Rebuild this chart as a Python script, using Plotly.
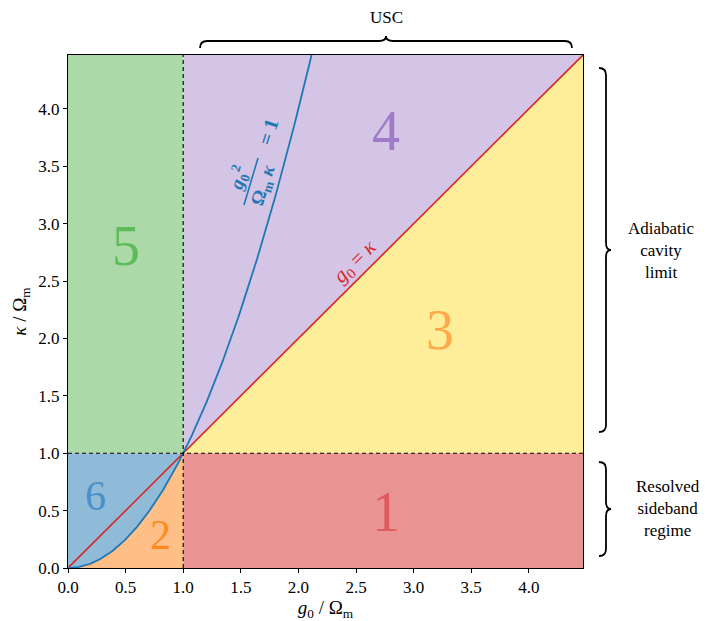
import numpy as np
import plotly.graph_objects as go

# ---- data ----
threshold = 1.0            # g0/Ωm = 1 and κ/Ωm = 1 boundaries
axis_max = 4.47            # axis extent (both axes)
x_ticks = [0.0, 0.5, 1.0, 1.5, 2.0, 2.5, 3.0, 3.5, 4.0]
y_ticks = [0.0, 0.5, 1.0, 1.5, 2.0, 2.5, 3.0, 3.5, 4.0]
tick_text = ["0.0", "0.5", "1.0", "1.5", "2.0", "2.5", "3.0", "3.5", "4.0"]
region_labels = ["1", "2", "3", "4", "5", "6"]
region_x = [2.76, 0.80, 3.23, 2.76, 0.50, 0.24]
region_y = [0.49, 0.29, 2.07, 3.81, 2.81, 0.63]

# boundary curve κ = g0² (g0²/(Ωm κ) = 1)
g_curve = np.linspace(0, np.sqrt(axis_max), 200)
k_curve = g_curve ** 2
g_in = g_curve[g_curve <= threshold]
k_in = g_in ** 2

# ---- styles ----
FONT = "Liberation Serif"
fill_cols = {"1": "#EA9393", "2": "#FFBF86", "3": "#FFEE99",
             "4": "#D4C4E6", "5": "#ABD9A8", "6": "#8FBBD9"}
text_cols = {"1": "#E0595C", "2": "#FF8A1E", "3": "#FFA94A",
             "4": "#A07CC8", "5": "#5DBB5A", "6": "#4A90C8"}
text_sizes = {"1": 56, "2": 42, "3": 56, "4": 56, "5": 56, "6": 42}

fig = go.Figure()

def poly(xs, ys, col):
    fig.add_trace(go.Scatter(x=xs, y=ys, fill="toself", fillcolor=col, mode="lines",
                             line=dict(width=0, color=col),
                             hoverinfo="skip", showlegend=False))

T, L = threshold, axis_max
poly([0, T, T, 0], [T, T, L, L], fill_cols["5"])
poly(list(g_in) + [0], list(k_in) + [T], fill_cols["6"])
poly(list(g_in) + [T], list(k_in) + [0], fill_cols["2"])
poly([T, L, T], [T, L, L], fill_cols["4"])
poly([T, L, L], [T, T, L], fill_cols["3"])
poly([T, L, L, T], [0, 0, T, T], fill_cols["1"])

# lines
fig.add_trace(go.Scatter(x=[0, L], y=[0, L], mode="lines",
                         line=dict(color="#d62728", width=1.6), showlegend=False, hoverinfo="skip"))
fig.add_trace(go.Scatter(x=g_curve, y=k_curve, mode="lines",
                         line=dict(color="#1f77b4", width=1.8), showlegend=False, hoverinfo="skip"))
fig.add_trace(go.Scatter(x=[T, T], y=[0, L], mode="lines",
                         line=dict(color="black", width=1.1, dash="4px,3px"), showlegend=False, hoverinfo="skip"))
fig.add_trace(go.Scatter(x=[0, L], y=[T, T], mode="lines",
                         line=dict(color="black", width=1.1, dash="4px,3px"), showlegend=False, hoverinfo="skip"))

for lab, xx, yy in zip(region_labels, region_x, region_y):
    fig.add_annotation(x=xx, y=yy, text=lab, showarrow=False,
                       xanchor="center", yanchor="middle",
                       font=dict(family=FONT, size=text_sizes[lab], color=text_cols[lab]))

# ---- pixel helpers ----
PL, PR, PT, PB = 68, 583, 55, 568
W, H = PR - PL, PB - PT
def px(x): return (x - PL) / W
def py(y): return (PB - y) / H

def ptext(x, y, text, size, color="black", angle=0):
    fig.add_annotation(x=px(x), y=py(y), xref="paper", yref="paper", text=text,
                       textangle=angle, showarrow=False, align="center",
                       xanchor="center", yanchor="middle",
                       font=dict(family=FONT, size=size, color=color))

# rotated curve labels: fraction g0² / (Ωm κ) = 1
ptext(251, 181, "<b><i>g</i><sub>0</sub><sup>2</sup></b><br><b>Ω<sub>m</sub> <i>κ</i></b>", 19,
      "#1f77b4", -72)
fig.add_shape(type="line", xref="paper", yref="paper",
              x0=px(244), y0=py(205), x1=px(258), y1=py(158),
              line=dict(color="#1f77b4", width=1.6))
ptext(268, 132, "<b>= 1</b>", 20, "#1f77b4", -72)
ptext(355, 262, "<i>g</i><sub>0</sub> = <i>κ</i>", 21, "#d62728", -45)

# ---- braces ----
def hbrace(x0, x1, y, d):
    xm = (x0 + x1) / 2
    r = 7
    return (f"M {px(x0)},{py(y + r)} Q {px(x0)},{py(y)} {px(x0 + r)},{py(y)} "
            f"L {px(xm - r)},{py(y)} Q {px(xm)},{py(y)} {px(xm)},{py(y - d)} "
            f"Q {px(xm)},{py(y)} {px(xm + r)},{py(y)} "
            f"L {px(x1 - r)},{py(y)} Q {px(x1)},{py(y)} {px(x1)},{py(y + r)}")

def vbrace(y0, y1, x, d):
    ym = (y0 + y1) / 2
    r = 7
    return (f"M {px(x - r)},{py(y0)} Q {px(x)},{py(y0)} {px(x)},{py(y0 + r)} "
            f"L {px(x)},{py(ym - r)} Q {px(x)},{py(ym)} {px(x + d)},{py(ym)} "
            f"Q {px(x)},{py(ym)} {px(x)},{py(ym + r)} "
            f"L {px(x)},{py(y1 - r)} Q {px(x)},{py(y1)} {px(x - r)},{py(y1)}")

for path in [hbrace(200, 572, 41, 5), vbrace(68, 432, 606, 5), vbrace(462, 556, 606, 5)]:
    fig.add_shape(type="path", path=path, xref="paper", yref="paper",
                  line=dict(color="black", width=1.8))

ptext(386, 18, "USC", 17)
ptext(661, 250, "Adiabatic<br>cavity<br>limit", 17)
ptext(668, 508, "Resolved<br>sideband<br>regime", 17)

axis_common = dict(range=[0, L], showgrid=False, zeroline=False, showline=True,
                   linecolor="black", linewidth=1, mirror=True, ticks="outside",
                   ticklen=4, tickcolor="black",
                   tickfont=dict(family=FONT, size=17, color="black"))
fig.update_xaxes(**axis_common, tickvals=x_ticks, ticktext=tick_text,
                 title=dict(text="<i>g</i><sub>0</sub> / Ω<sub>m</sub>", standoff=0,
                            font=dict(family=FONT, size=19, color="black")))
fig.update_yaxes(**axis_common, tickvals=y_ticks, ticktext=tick_text,
                 title=dict(text="<i>κ</i> / Ω<sub>m</sub>", standoff=6,
                            font=dict(family=FONT, size=19, color="black")))

fig.update_layout(width=708, height=621, margin=dict(l=PL, r=708 - PR, t=PT, b=621 - PB, autoexpand=False),
                  plot_bgcolor="white", paper_bgcolor="white", showlegend=False)

fig.write_html("out.html", config={"displayModeBar": False},
               post_script="document.body.style.margin='0';document.body.style.padding='0';")
